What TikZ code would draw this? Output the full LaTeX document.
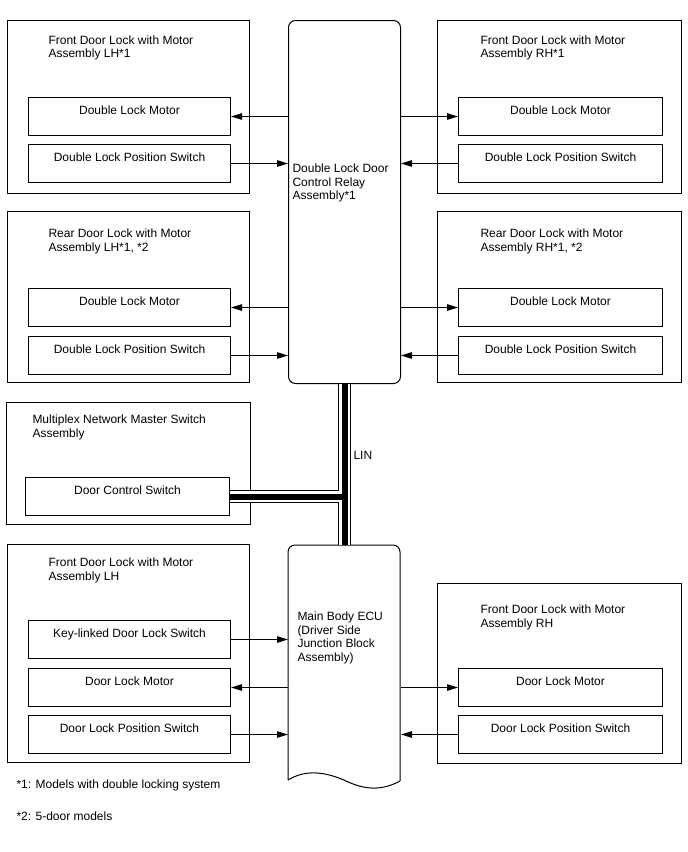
\documentclass[tikz,border=0pt]{standalone}
\usepackage{fontspec}
\setmainfont{Liberation Sans}
\usetikzlibrary{arrows.meta,positioning}
\tikzset{every picture/.style={line width=1pt}}

\begin{document}
\begin{tikzpicture}[x=1pt, y=-1pt, font=\fontsize{12}{13.8}\selectfont,
    housing/.style={draw, inner sep=0pt, anchor=north west},
    part/.style={draw, anchor=north west, minimum width=202, inner xsep=0pt, inner ysep=4pt, text height=12.5pt, text depth=17.5pt},
    caption/.style={inner sep=0pt, anchor=north west, align=left},
    sig/.style={-{Triangle[length=11pt,width=6.5pt]}},
    busout/.style={line width=13pt, black},
    busgap/.style={line width=11pt, white},
    buscore/.style={line width=6pt, black}]
    \fill[white] (0,0) rectangle (688,852);

    % relay and ECU
    \node[draw, rounded corners=7, inner sep=0pt, anchor=north west, minimum width=112, minimum height=363] (DLR) at (288,20) {};
    \node[caption] (DLRt) at (292,163) {Double Lock Door\\Control Relay\\Assembly*1};
    \node[inner sep=0pt, anchor=north west, minimum width=112, minimum height=236] (ECU) at (288,545) {};
    \draw[rounded corners=7] (288,780) -- (288,545) -- (400,545) -- (400,781);
    \draw (400,781) .. controls (380,792) and (362,789) .. (344,780) .. controls (320,770) and (303,771) .. (288,780);
    \node[caption] (ECUt) at (297,611) {Main Body ECU\\(Driver Side\\Junction Block\\Assembly)};

    % front doors *1
    \node[housing, minimum width=242, minimum height=173] (FLH) at (7,20) {};
    \node[caption] (FLHt) at (48,35) {Front Door Lock with Motor\\Assembly LH*1};
    \node[part] (FLHm) at (28,97) {Double Lock Motor};
    \node[part] (FLHs) at (28,144) {Double Lock Position Switch};
    \node[housing, minimum width=244, minimum height=173] (FRH) at (437,20) {};
    \node[caption] (FRHt) at (480,35) {Front Door Lock with Motor\\Assembly RH*1};
    \node[part, minimum width=204] (FRHm) at (458,97) {Double Lock Motor};
    \node[part, minimum width=204] (FRHs) at (458,144) {Double Lock Position Switch};

    % rear doors
    \node[housing, minimum width=242, minimum height=171] (RLH) at (7,211) {};
    \node[caption] (RLHt) at (48,228) {Rear Door Lock with Motor\\Assembly LH*1, *2};
    \node[part] (RLHm) at (28,288) {Double Lock Motor};
    \node[part] (RLHs) at (28,336) {Double Lock Position Switch};
    \node[housing, minimum width=244, minimum height=171] (RRH) at (437,211) {};
    \node[caption] (RRHt) at (480,228) {Rear Door Lock with Motor\\Assembly RH*1, *2};
    \node[part, minimum width=204] (RRHm) at (458,288) {Double Lock Motor};
    \node[part, minimum width=204] (RRHs) at (458,336) {Double Lock Position Switch};

    % master switch
    \node[housing, minimum width=244, minimum height=122] (MNS) at (6,402) {};
    \node[caption] (MNSt) at (32,414) {Multiplex Network Master Switch\\Assembly};
    \node[part, minimum width=204] (MNSs) at (25,477) {Door Control Switch};

    % front doors on the ECU
    \node[housing, minimum width=242, minimum height=218] (BLH) at (7,544) {};
    \node[caption] (BLHt) at (48,557) {Front Door Lock with Motor\\Assembly LH};
    \node[part] (BLHk) at (28,620) {Key-linked Door Lock Switch};
    \node[part] (BLHm) at (28,668) {Door Lock Motor};
    \node[part] (BLHs) at (28,715) {Door Lock Position Switch};
    \node[housing, minimum width=244, minimum height=180] (BRH) at (437,583) {};
    \node[caption] (BRHt) at (480,604) {Front Door Lock with Motor\\Assembly RH};
    \node[part, minimum width=204] (BRHm) at (458,668) {Door Lock Motor};
    \node[part, minimum width=204] (BRHs) at (458,715) {Door Lock Position Switch};

    \draw[sig] (DLR.west |- FLHm) -- (FLHm.east);
    \draw[sig] (FLHs.east) -- (DLR.west |- FLHs);
    \draw[sig] (DLR.east |- FRHm) -- (FRHm.west);
    \draw[sig] (FRHs.west) -- (DLR.east |- FRHs);
    \draw[sig] (DLR.west |- RLHm) -- (RLHm.east);
    \draw[sig] (RLHs.east) -- (DLR.west |- RLHs);
    \draw[sig] (DLR.east |- RRHm) -- (RRHm.west);
    \draw[sig] (RRHs.west) -- (DLR.east |- RRHs);
    \draw[sig] (BLHk.east) -- (ECU.west |- BLHk);
    \draw[sig] (ECU.west |- BLHm) -- (BLHm.east);
    \draw[sig] (BLHs.east) -- (ECU.west |- BLHs);
    \draw[sig] (ECU.east |- BRHm) -- (BRHm.west);
    \draw[sig] (BRHs.west) -- (ECU.east |- BRHs);

    % LIN bus
    \draw[busout] (MNSs.east) -- (DLR.south |- MNSs.east) (DLR.south) -- (ECU.north);
    \draw[busgap] (MNSs.east) -- (DLR.south |- MNSs.east) (DLR.south) -- (ECU.north);
    \draw[buscore] (MNSs.east) -- (DLR.south |- MNSs.east) (DLR.south) -- (ECU.north);
    \node[caption] (LIN) at (353,451) {LIN};

    \node[caption] (FN1) at (16,779) {*1: Models with double locking system};
    \node[caption] (FN2) at (16,811) {*2: 5-door models};
\end{tikzpicture}
\end{document}
